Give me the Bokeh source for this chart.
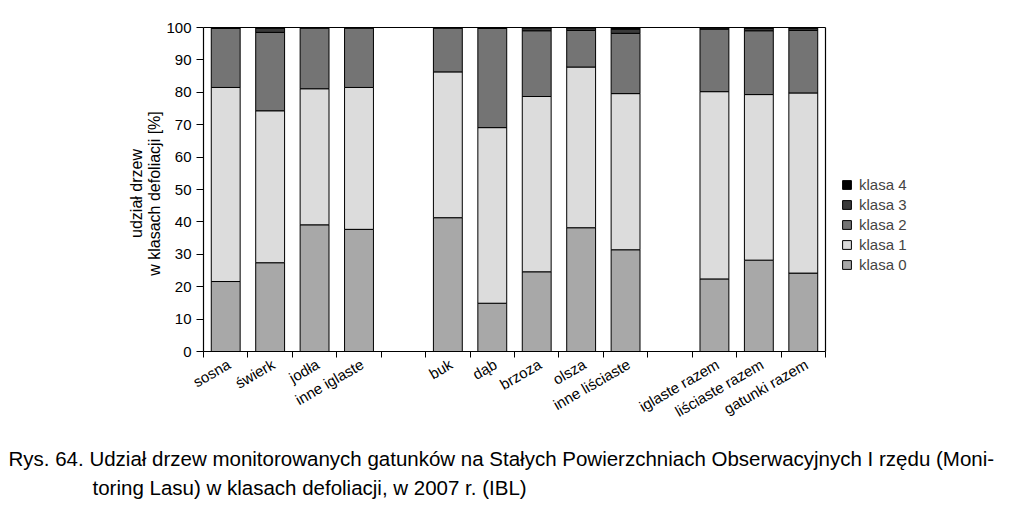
import math
from bokeh.plotting import figure
from bokeh.models import (ColumnDataSource, FixedTicker, Legend, LegendItem,
                          LabelSet, Label, Title, Range1d, LinearAxis)
from bokeh.core.properties import value
from bokeh.embed import file_html
from bokeh.resources import INLINE

categories = ["sosna", "świerk", "jodła", "inne iglaste", "",
              "buk", "dąb", "brzoza", "olsza", "inne liściaste", "",
              "iglaste razem", "liściaste razem", "gatunki razem"]
klasa_0 = [21.6, 27.4, 39.1, 37.7, 0, 41.3, 14.9, 24.6, 38.2, 31.4, 0, 22.4, 28.2, 24.2]
klasa_1 = [59.9, 46.9, 42.0, 43.8, 0, 45.0, 54.2, 54.1, 49.6, 48.2, 0, 57.8, 51.1, 55.6]
klasa_2 = [18.2, 24.2, 18.7, 18.3, 0, 13.5, 30.6, 20.3, 11.3, 18.6, 0, 19.3, 19.7, 19.3]
klasa_3 = [0.3, 1.3, 0.2, 0.2, 0, 0.2, 0.3, 0.9, 0.8, 1.3, 0, 0.4, 0.8, 0.7]
klasa_4 = [0.0, 0.2, 0.0, 0.0, 0, 0.0, 0.0, 0.1, 0.1, 0.5, 0, 0.1, 0.2, 0.2]
series_names = ["klasa 0", "klasa 1", "klasa 2", "klasa 3", "klasa 4"]
y_ticks = [0, 10, 20, 30, 40, 50, 60, 70, 80, 90, 100]
caption_1 = "Rys. 64.  Udział drzew monitorowanych gatunków na Stałych Powierzchniach Obserwacyjnych I rzędu (Moni-"
caption_2 = "toring Lasu) w klasach defoliacji, w 2007 r. (IBL)"
y_label_1 = "udział drzew"
y_label_2 = "w klasach defoliacji [%]"

colors = ["#a8a8a8", "#dcdcdc", "#747474", "#3a3a3a", "#000000"]
FONT = "Liberation Sans"

# ---- layout (pixels) ----
W, H = 1007, 499
FRAME_LEFT, FRAME_TOP = 100, 12   # frame larger than the plot box
LEFT, TOP = 203, 27               # plot box top-left
BOX_W, BOX_H = 622, 324           # plot box size
FRAME_BOTTOM = 440
n = len(categories)
ymax = y_ticks[-1]
px_per_x = BOX_W / n
px_per_y = BOX_H / ymax
x_start = -(LEFT - FRAME_LEFT) / px_per_x
x_end = (W - LEFT) / px_per_x
y_start = -(FRAME_BOTTOM - (TOP + BOX_H)) / px_per_y
y_end = ymax + (TOP - FRAME_TOP) / px_per_y

idx = [i for i, c in enumerate(categories) if c]
data = dict(x=[i + 0.5 for i in idx], name=[categories[i] for i in idx])
keys = ["k0", "k1", "k2", "k3", "k4"]
for k, arr in zip(keys, [klasa_0, klasa_1, klasa_2, klasa_3, klasa_4]):
    data[k] = [arr[i] for i in idx]
src = ColumnDataSource(data)

p = figure(width=W, height=H, output_backend="svg", toolbar_location=None,
           x_range=Range1d(x_start, x_end), y_range=Range1d(y_start, y_end),
           min_border_left=FRAME_LEFT, min_border_right=0,
           min_border_top=FRAME_TOP, min_border_bottom=H - FRAME_BOTTOM,
           x_axis_location=None, y_axis_location=None)
p.background_fill_color = "white"
p.border_fill_color = "white"
p.outline_line_color = None
p.xgrid.visible = False
p.ygrid.visible = False

rs = p.vbar_stack(keys, x="x", width=0.65, source=src, fill_color=colors,
                  line_color="black", line_width=1)

# left y axis, drawn at x=0
yaxis = LinearAxis(ticker=FixedTicker(ticks=y_ticks), bounds=(0, ymax),
                   fixed_location=0)
yaxis.minor_tick_line_color = None
yaxis.major_tick_out = 7
yaxis.major_tick_in = 0
yaxis.axis_line_width = 1.2
yaxis.major_label_text_font = FONT
yaxis.major_label_text_font_size = "15px"
yaxis.major_label_text_color = "black"
yaxis.major_label_standoff = 5
p.add_layout(yaxis, "left")

# y axis title (two lines, rotated)
for txt, cx in [(y_label_1, 136), (y_label_2, 154)]:
    p.add_layout(Label(x=cx - FRAME_LEFT, y=FRAME_BOTTOM - 193,
                       x_units="screen", y_units="screen", text=txt,
                       angle=math.pi / 2, text_align="center",
                       text_baseline="middle", text_font=FONT,
                       text_font_size="16px", text_color="black"))

# bottom x axis at y=0 (ticks at category boundaries, no labels)
xaxis = LinearAxis(ticker=FixedTicker(ticks=[], minor_ticks=list(range(n + 1))),
                   bounds=(0, n), fixed_location=0)
xaxis.minor_tick_out = 6
xaxis.minor_tick_in = 0
xaxis.minor_tick_line_color = "black"
xaxis.axis_line_width = 1.2
p.add_layout(xaxis, "below")

# box: top and right edges
top_axis = LinearAxis(ticker=FixedTicker(ticks=[]), bounds=(0, n),
                      fixed_location=ymax, axis_line_width=1.2)
p.add_layout(top_axis, "above")
right_axis = LinearAxis(ticker=FixedTicker(ticks=[]), bounds=(0, ymax),
                        fixed_location=n, axis_line_width=1.2)
p.add_layout(right_axis, "left")

labels = LabelSet(x="x", y=0, text="name", source=src, angle=math.radians(30),
                  x_offset=-1, y_offset=-4, text_align="right",
                  text_baseline="top", text_font=value(FONT),
                  text_font_size="15px", text_color="black")
p.add_layout(labels)

items = [LegendItem(label=series_names[i], renderers=[rs[i]]) for i in range(4, -1, -1)]
legend = Legend(items=items, location=(841 - FRAME_LEFT, FRAME_BOTTOM - 273),
                border_line_color=None, background_fill_alpha=0,
                padding=0, margin=0,
                glyph_width=11, glyph_height=11, label_height=11, spacing=3,
                label_text_font=FONT, label_text_font_size="15px",
                label_standoff=7)
p.add_layout(legend)

t1 = Title(text=caption_1, align="left", offset=8 - FRAME_LEFT, standoff=8,
           text_font=FONT, text_font_size="20.5px",
           text_font_style="normal", text_color="black")
t2 = Title(text=caption_2, align="left", offset=92 - FRAME_LEFT, standoff=0,
           text_font=FONT, text_font_size="20.5px",
           text_font_style="normal", text_color="black")
p.add_layout(t1, "below")
p.add_layout(t2, "below")

open("out.html", "w").write(file_html(p, INLINE))
